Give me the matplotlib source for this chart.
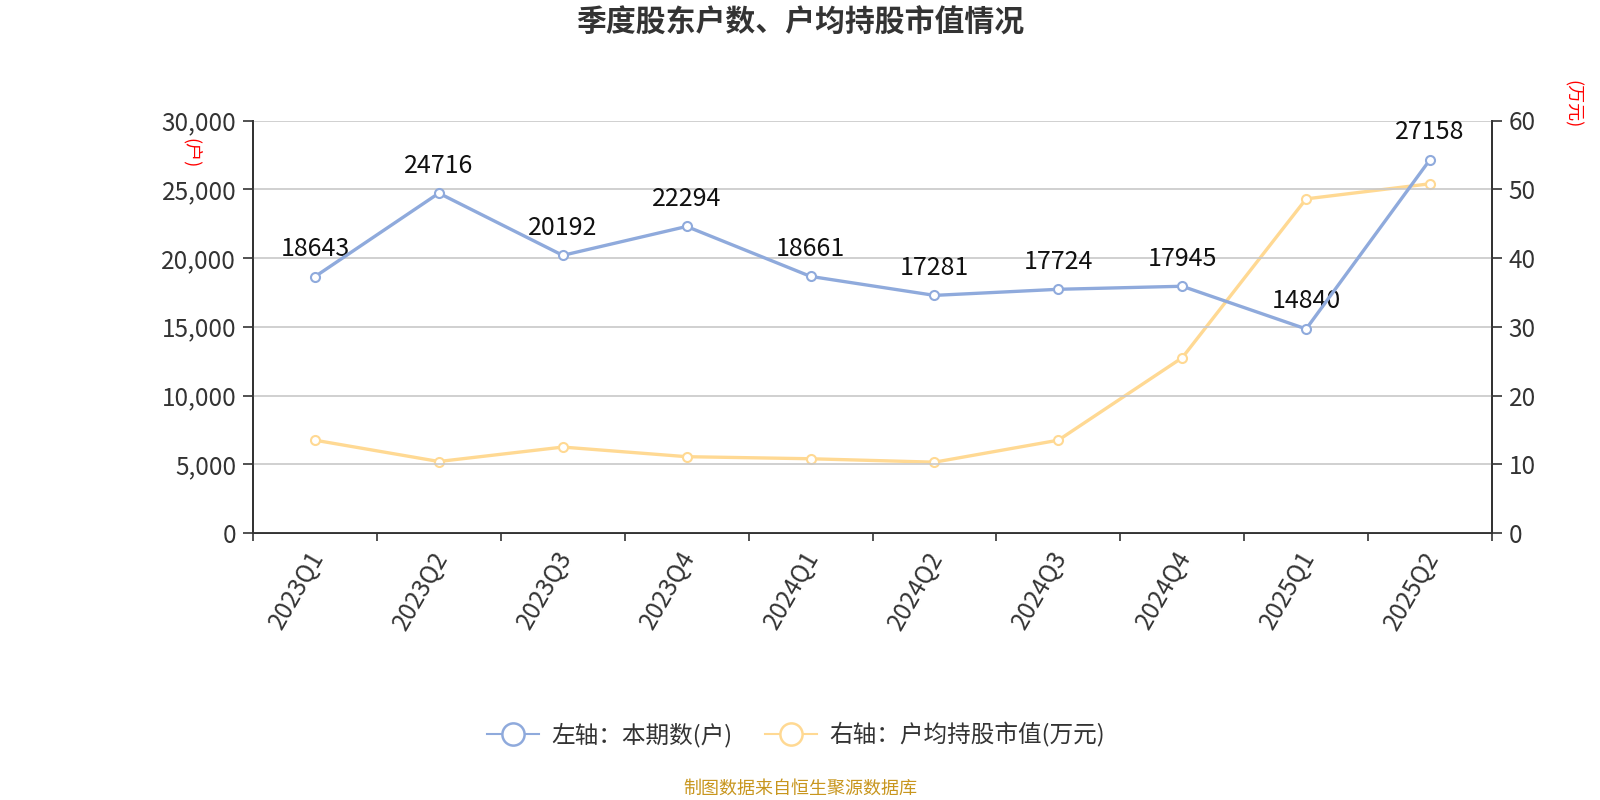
import matplotlib
matplotlib.use("Agg")
import matplotlib.pyplot as plt
import matplotlib.transforms as mtransforms
from matplotlib.lines import Line2D

plt.rcParams['font.family'] = ['Noto Sans CJK SC', 'DejaVu Sans']

quarters = ["2023Q1", "2023Q2", "2023Q3", "2023Q4", "2024Q1", "2024Q2",
            "2024Q3", "2024Q4", "2025Q1", "2025Q2"]
holders = [18643, 24716, 20192, 22294, 18661, 17281, 17724, 17945, 14840, 27158]
avg_value = [13.5, 10.4, 12.5, 11.1, 10.8, 10.3, 13.5, 25.5, 48.6, 50.8]
left_ticks = [0, 5000, 10000, 15000, 20000, 25000, 30000]
right_ticks = [0, 10, 20, 30, 40, 50, 60]

blue = "#8FAADC"
yellow = "#FFD993"
axis_col = "#333333"
text_col = "#333333"

W, H = 1600, 800
L, R, T, B = 253, 1492, 120.5, 533

fig = plt.figure(figsize=(16, 8), dpi=100)
ax = fig.add_axes([L/W, 1-B/H, (R-L)/W, (B-T)/H])
ax2 = ax.twinx()

x = list(range(len(quarters)))
ax.plot(x, holders, color=blue, lw=2.4, marker='o', ms=6.5, mfc='white',
        mec=blue, mew=1.5, zorder=5)
ax2.plot(x, avg_value, color=yellow, lw=2.4, marker='o', ms=6.5, mfc='white',
         mec=yellow, mew=1.5, zorder=4)
ax.set_zorder(ax2.get_zorder() + 1)
ax.patch.set_visible(False)

for xi, v in zip(x, holders):
    ax.annotate(str(v), (xi, v), xytext=(0, 10.5), textcoords='offset points',
                ha='center', va='bottom', fontsize=18, color='#111111')

ax.set_xlim(-0.5, len(quarters) - 0.5)
ax.set_ylim(0, 30000)
ax2.set_ylim(0, 60)

ax.set_yticks(left_ticks)
ax.set_yticklabels([f"{t:,}" for t in left_ticks], fontsize=17.5, color=text_col)
ax2.set_yticks(right_ticks)
ax2.set_yticklabels([str(t) for t in right_ticks], fontsize=17.5, color=text_col)

ax.set_xticks(x)
ax.set_xticklabels(quarters, rotation=60, ha='right', va='top',
                   rotation_mode='anchor', fontsize=17.5, color=text_col)
ax.tick_params(axis='x', which='major', length=0, pad=12)
shift = mtransforms.ScaledTranslation(-8/100, 3/100, fig.dpi_scale_trans)
for lbl in ax.get_xticklabels():
    lbl.set_transform(lbl.get_transform() + shift)
ax.set_xticks([i - 0.5 for i in range(len(quarters) + 1)], minor=True)
ax.tick_params(axis='x', which='minor', length=6, width=1.2, color=axis_col, direction='out')

ax.tick_params(axis='y', length=7, width=1.2, color=axis_col, pad=5)
ax2.tick_params(axis='y', length=7, width=1.2, color=axis_col, pad=5)

ax.grid(axis='y', color='#C8C8C8', lw=1.2)
ax.set_axisbelow(True)

for a in (ax, ax2):
    a.spines['top'].set_visible(False)
    for s in ('left', 'right', 'bottom'):
        a.spines[s].set_color(axis_col)
        a.spines[s].set_linewidth(1.3)

fig.text(0.5, 1 - 23/H, "季度股东户数、户均持股市值情况", ha='center', va='center',
         fontsize=21.5, fontweight='bold', color=text_col)
fig.text(191/W, 1 - 153/H, "(户)", rotation=-90, ha='center', va='center',
         fontsize=13, color='red')
fig.text(1572/W, 1 - 104/H, "(万元)", rotation=-90, ha='center', va='center',
         fontsize=13, color='red')

handles = [
    Line2D([0], [0], color=blue, lw=1.5, marker='o', ms=16, mfc='white', mec=blue, mew=1.8),
    Line2D([0], [0], color=yellow, lw=1.5, marker='o', ms=16, mfc='white', mec=yellow, mew=1.8),
]
fig.legend(handles, ["左轴：本期数(户)", "右轴：户均持股市值(万元)"],
           loc='center', bbox_to_anchor=(796/W, 1 - 735/H), ncol=2, frameon=False,
           fontsize=17, handlelength=2.2, columnspacing=1.4, handletextpad=0.5,
           labelcolor=text_col)

fig.text(0.5, 1 - 789/H, "制图数据来自恒生聚源数据库", ha='center', va='center',
         fontsize=13, color='#C8961E')

fig.savefig("out.png", dpi=100)
